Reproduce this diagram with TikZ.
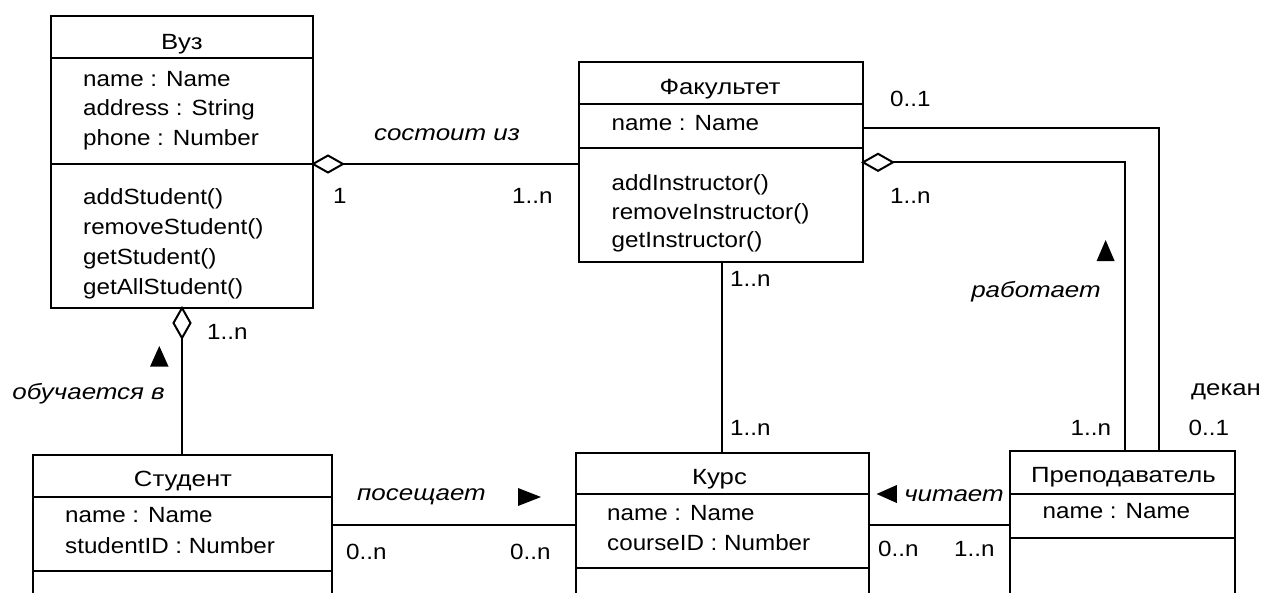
\documentclass[tikz,border=0pt]{standalone}
\usepackage{fontspec}
\setmainfont{Liberation Sans}[FakeStretch=1.1, ItalicFeatures={FakeStretch=1.18}]
\newfontfamily\cyrwide{Liberation Sans}[FakeStretch=1.17]
\usetikzlibrary{calc}
\tikzset{
  cls/.style={draw, line width=2pt, anchor=north west, inner sep=0pt, outer sep=0pt},
  txt/.style={inner sep=0pt, font=\fontsize{22}{26}\selectfont, anchor=base west},
  ttl/.style={inner sep=0pt, font=\fontsize{22}{26}\cyrwide\selectfont, anchor=base},
  lbl/.style={inner sep=0pt, font=\fontsize{22}{26}\selectfont\itshape, anchor=base},
  mult/.style={inner sep=0pt, font=\fontsize{22}{26}\selectfont, anchor=base west},
  conn/.style={line width=2pt},
  sepline/.style={line width=2pt},
  dmd/.style={line width=2pt, fill=white},
}
\begin{document}
\begin{tikzpicture}[x=1pt,y=-1pt]
\clip (0,0) rectangle (1264,592);
\fill[white] (0,0) rectangle (1264,592);

% ---------- classes ----------
\node[cls, minimum width=262pt, minimum height=292pt] (vuz) at (51,16) {};
\draw[sepline] (51,58) -- (313,58);
\draw[sepline] (51,164) -- (313,164);
\node[ttl] (vuzT) at (182,49) {Вуз};
\node[txt] (vuzA1) at (83,86) {name : Name};
\node[txt] (vuzA2) at (83,115.5) {address : String};
\node[txt] (vuzA3) at (83,145) {phone : Number};
\node[txt] (vuzO1) at (83,204.5) {addStudent()};
\node[txt] (vuzO2) at (83,234.5) {removeStudent()};
\node[txt] (vuzO3) at (83,264.5) {getStudent()};
\node[txt] (vuzO4) at (83,294.5) {getAllStudent()};

\node[cls, minimum width=284pt, minimum height=200pt] (fak) at (579,62) {};
\draw[sepline] (579,104) -- (863,104);
\draw[sepline] (579,148) -- (863,148);
\node[ttl] (fakT) at (720,94) {Факультет};
\node[txt] (fakA1) at (611.5,130) {name : Name};
\node[txt] (fakO1) at (611.5,190.5) {addInstructor()};
\node[txt] (fakO2) at (611.5,219) {removeInstructor()};
\node[txt] (fakO3) at (611.5,247) {getInstructor()};

\node[cls, minimum width=299pt, minimum height=170pt] (stud) at (32.5,454.5) {};
\draw[sepline] (32.5,496.7) -- (331.5,496.7);
\draw[sepline] (32.5,570.7) -- (331.5,570.7);
\node[ttl] (studT) at (183,486.5) {Студент};
\node[txt] (studA1) at (65,522.5) {name : Name};
\node[txt] (studA2) at (65,553.5) {studentID : Number};

\node[cls, minimum width=293pt, minimum height=170pt] (kurs) at (575.5,452.7) {};
\draw[sepline] (575.5,494) -- (868.5,494);
\draw[sepline] (575.5,568.3) -- (868.5,568.3);
\node[ttl] (kursT) at (719.5,484) {Курс};
\node[txt] (kursA1) at (607,520.5) {name : Name};
\node[txt] (kursA2) at (607,550.5) {courseID : Number};

\node[cls, minimum width=225pt, minimum height=170pt] (prep) at (1010.4,450.7) {};
\draw[sepline] (1010.4,494) -- (1235.4,494);
\draw[sepline] (1010.4,538.3) -- (1235.4,538.3);
\node[ttl] (prepT) at (1123.5,482.5) {Преподаватель};
\node[txt] (prepA1) at (1042.5,518.5) {name : Name};

% ---------- helper coordinates ----------
\coordinate (h1) at (0,164);
\coordinate (h2) at (0,162.3);
\coordinate (h3) at (0,128.3);
\coordinate (h4) at (0,525);
\coordinate (v1) at (721.5,0);
\coordinate (v2) at (1124.5,0);
\coordinate (v3) at (1159,0);

% ---------- connectors ----------
% Вуз -- Факультет (состоит из)
\draw[conn] (vuz.east |- h1) -- (fak.west |- h1);
\draw[dmd] (vuz.east |- h1) -- ++(15,-8.5) -- ++(15,8.5) -- ++(-15,8.5) -- cycle;
\node[lbl] (l1) at (447,140) {состоит из};
\node[mult] (m1a) at (333,203.5) {1};
\node[mult] (m1b) at (512,203.5) {1..n};

% Вуз -- Студент (обучается в)
\draw[conn] (vuz.south) -- (stud.north);
\draw[dmd] (vuz.south) -- ++(8.5,15) -- ++(-8.5,15) -- ++(-8.5,-15) -- cycle;
\node[mult] (m2a) at (207,339) {1..n};
\node[lbl, anchor=base east] (l2) at (165,399) {обучается в};
\fill (150,366.7) -- (168.6,366.7) -- (159.3,346) -- cycle;

% Факультет -- Курс
\draw[conn] (fak.south -| v1) -- (kurs.north -| v1);
\node[mult] (m3a) at (730,286.5) {1..n};
\node[mult] (m3b) at (730,435) {1..n};

% Факультет -- Преподаватель (работает)
\draw[conn] (fak.east |- h2) -- (h2 -| v2) -- (prep.north -| v2);
\draw[dmd] (fak.east |- h2) -- ++(15,-8.5) -- ++(15,8.5) -- ++(-15,8.5) -- cycle;
\node[mult] (m4a) at (890,203.5) {1..n};
\node[lbl] (l4) at (1036,297) {работает};
\fill (1096.6,261) -- (1114.6,261) -- (1105.6,240) -- cycle;
\node[mult] (m4b) at (1070.5,435) {1..n};

% Факультет -- Преподаватель (декан)
\draw[conn] (fak.east |- h3) -- (h3 -| v3) -- (prep.north -| v3);
\node[mult] (m5a) at (890,106.5) {0..1};
\node[mult] (m5b) at (1188.5,435) {0..1};
\node[mult, font=\fontsize{22}{26}\cyrwide\selectfont] (l5) at (1191,395) {декан};

% Студент -- Курс (посещает)
\draw[conn] (stud.east |- h4) -- (kurs.west |- h4);
\node[lbl] (l6) at (421.5,500) {посещает};
\fill (518,488) -- (518,506) -- (541,497) -- cycle;
\node[mult] (m6a) at (346,559) {0..n};
\node[mult] (m6b) at (510,559) {0..n};

% Курс -- Преподаватель (читает)
\draw[conn] (kurs.east |- h4) -- (prep.west |- h4);
\fill (896.8,485) -- (896.8,503) -- (876.6,494) -- cycle;
\node[lbl] (l7) at (954,501) {читает};
\node[mult] (m7a) at (878,556) {0..n};
\node[mult] (m7b) at (954,556) {1..n};
\end{tikzpicture}
\end{document}
